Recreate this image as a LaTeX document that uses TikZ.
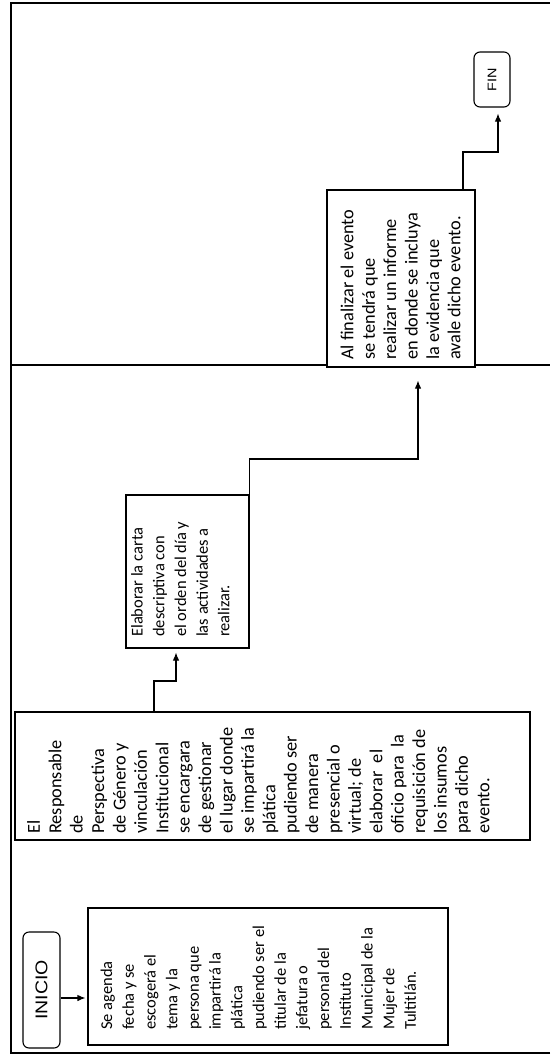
\documentclass[tikz,border=0pt]{standalone}
\usepackage{fontspec}
\usepackage{graphicx}
\setmainfont{Carlito}
\newfontfamily\termfont{Liberation Sans}
\newcommand{\sza}{\fontsize{16.5pt}{21.7pt}\selectfont}
\newcommand{\szb}{\fontsize{18.3pt}{21.4pt}\selectfont}
\usetikzlibrary{arrows.meta,calc}
\begin{document}
\begin{tikzpicture}[x=1pt,y=1pt,
  framest/.style={line width=1.4pt},
  boxst/.style={draw, line width=1.1pt, rectangle, inner sep=0pt},
  termst/.style={draw, line width=1.1pt, rectangle, rounded corners=6pt, inner sep=0pt},
  conn/.style={line width=1.1pt},
  arr/.style={conn, -{Latex[length=8pt,width=6.5pt]}},
  txt/.style={rotate=90, anchor=north west, align=left, inner sep=0pt},
  txta/.style={font=\sza},
  txtb/.style={font=\szb},
  termtxt/.style={rotate=90, inner sep=0pt}
]
\useasboundingbox (0,0) rectangle (550,-1055);
% frame
\coordinate (fbl) at (11,-1053);
\coordinate (ftl) at (11,-3);
\coordinate (ftr) at (550,-3);
\coordinate (fbr) at (550,-1053);
\draw[framest] (fbr) -- (fbl) -- (ftl) -- (ftr);
% boxes
\node[termst, minimum width=37pt, minimum height=116pt] (inicio) at (41.5,-990) {};
\node[termtxt] (inicioT) at (inicio.center) {\termfont\fontsize{17pt}{20pt}\selectfont\scalebox{1.15}[1]{INICIO}};
\node[boxst, minimum width=360pt, minimum height=137pt] (b1) at (268,-976.5) {};
\node[boxst, minimum width=515pt, minimum height=128pt] (b2) at (272.5,-776) {};
\node[boxst, minimum width=123pt, minimum height=153pt] (b3) at (187.5,-571.5) {};
\node[boxst, minimum width=148pt, minimum height=177pt] (b4) at (401,-278.5) {};
\node[termst, minimum width=36pt, minimum height=55pt] (fin) at (492,-79.5) {};
\node[termtxt] (finT) at (fin.center) {\termfont\fontsize{12.5pt}{15pt}\selectfont\scalebox{1.15}[1]{FIN}};
% divider
\coordinate (dl) at (11,-365);
\coordinate (dr) at (550,-365);
\draw[framest] (dl) -- (dl -| b4.west);
\draw[framest] (dr -| b4.east) -- (dr);
% texts
\node[txt, txta] (t1) at (100.5,-1030) {\sza Se agenda\\\sza fecha y se\\\sza escogerá el\\\sza tema y la\\\sza persona que\\\sza impartirá la\\\sza plática\\\sza pudiendo ser el\\\sza titular de la\\\sza jefatura o\\\sza personal del\\\sza Instituto\\\sza Municipal de la\\\sza Mujer de\\\sza Tultitlán.};
\node[txt, txtb] (t2) at (27,-834) {\szb El\\\szb Responsable\\\szb de\\\szb Perspectiva\\\szb de Género y\\\szb vinculación\\\szb Institucional\\\szb se encargara\\\szb de gestionar\\\szb el lugar donde\\\szb se impartirá la\\\szb plática\\\szb pudiendo ser\\\szb de manera\\\szb presencial o\\\szb virtual; de\\\szb elaborar\ \ el\\\szb oficio para\ \ la\\\szb requisición de\\\szb los insumos\\\szb para dicho\\\szb evento.};
\node[txt, txta] (t3) at (131,-637) {\sza Elaborar la carta\\\sza descriptiva con\\\sza el orden del día y\\\sza las actividades a\\\sza realizar.};
\node[txt, txtb] (t4) at (340.5,-360) {\szb Al finalizar el evento\\\szb se tendrá que\\\szb realizar un informe\\\szb en donde se incluya\\\szb la evidencia que\\\szb avale dicho evento.};
% connectors
\coordinate (c01) at (0,-998);
\draw[arr, shorten >=2pt] (inicio.east |- c01) -- (b1.west |- c01);
\coordinate (c23a) at (154,-681);
\coordinate (c23b) at (176,-681);
\draw[arr, shorten >=4pt] (b2.north -| c23a) -- (c23a) -- (c23b) -- (b3.south -| c23b);
\coordinate (c34) at (418,-459);
\draw[arr, shorten >=13pt] (b3.north east) |- (c34) -- (b4.south -| c34);
\coordinate (c4a) at (463,-152);
\coordinate (c4b) at (498,-152);
\draw[arr, shorten >=6pt] (b4.north -| c4a) -- (c4a) -- (c4b) -- (fin.south -| c4b);
\end{tikzpicture}
\end{document}
